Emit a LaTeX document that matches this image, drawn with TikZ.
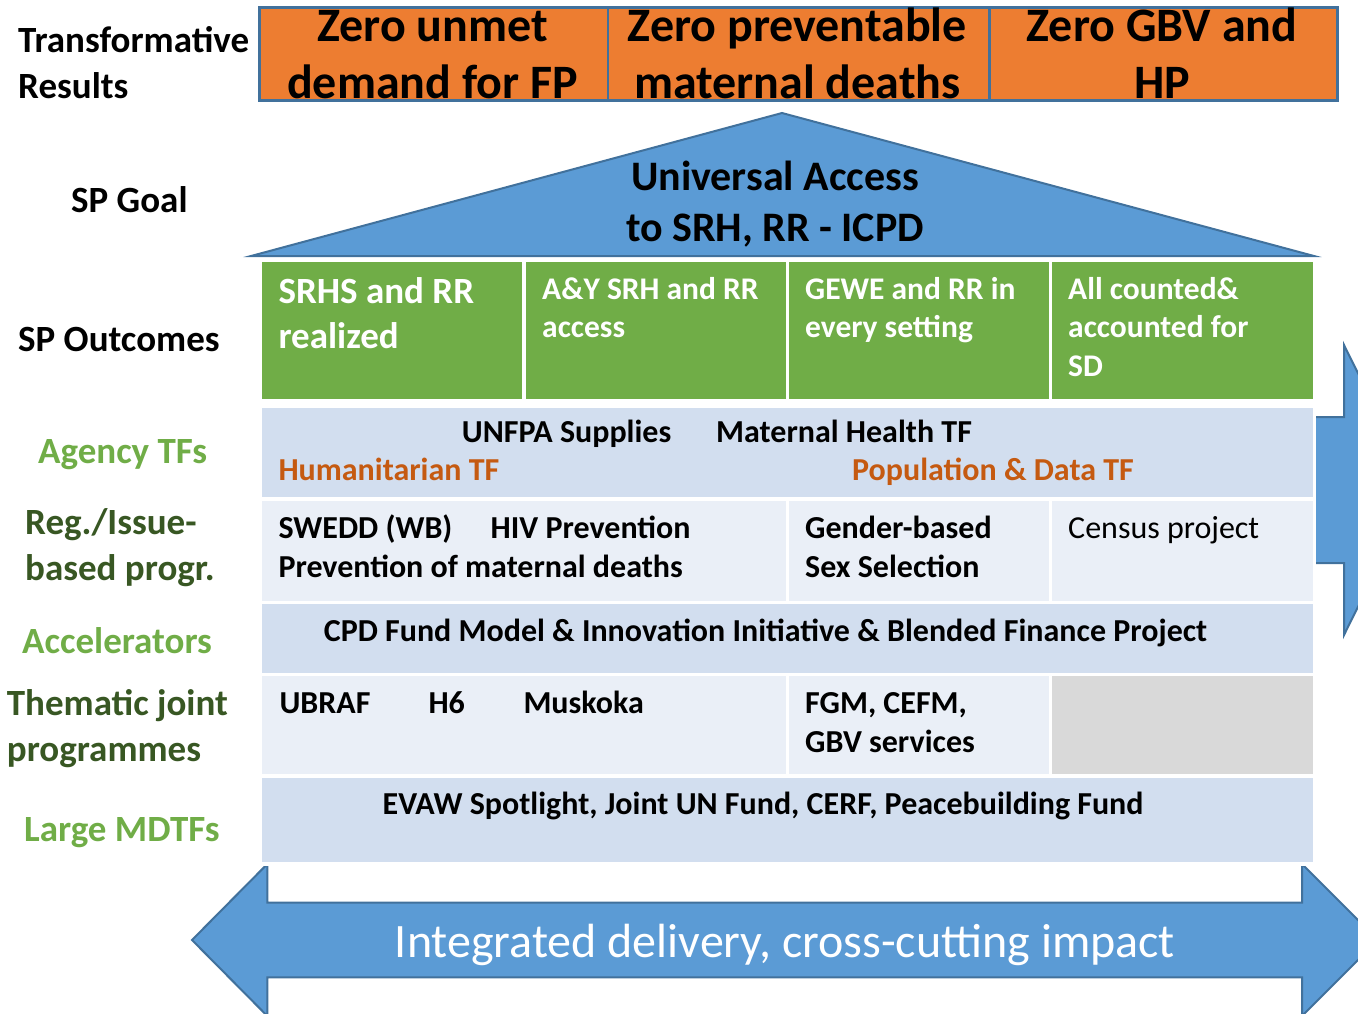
\documentclass[tikz,border=0pt]{standalone}
\usepackage{fontspec}
\setmainfont{Carlito}
\definecolor{orfill}{HTML}{ED7D31}
\definecolor{bord}{HTML}{41719C}
\definecolor{blfill}{HTML}{5B9BD5}
\definecolor{grfill}{HTML}{70AD47}
\definecolor{grlight}{HTML}{70AD47}
\definecolor{grdark}{HTML}{385723}
\definecolor{ortext}{HTML}{C55A11}
\definecolor{bandA}{HTML}{D2DEEF}
\definecolor{bandB}{HTML}{EAEFF7}
\definecolor{grcell}{HTML}{D9D9D9}
\begin{document}
\begin{tikzpicture}[x=1pt, y=-1pt, line join=miter,
    cell/.style={draw=white, line width=3.3pt, inner sep=0, anchor=north west},
    topbox/.style={draw=bord, fill=orfill, line width=2.5pt, inner sep=0, anchor=north west, minimum height=93.3},
    toptxt/.style={inner sep=0, anchor=north, align=center, font=\fontsize{48}{57}\selectfont\bfseries},
    lbl/.style={inner sep=0, align=left, font=\fontsize{37}{46}\selectfont\bfseries},
    outtxt/.style={inner sep=0, anchor=north west, align=left, text=white, font=\fontsize{31.5}{38.5}\selectfont\bfseries},
    tbl/.style={inner sep=0, align=left, font=\fontsize{32}{38.5}\selectfont\bfseries},
    arrw/.style={draw=bord, fill=blfill, line width=2pt}]
    \useasboundingbox (0,0) rectangle (1358,1013);
    \clip (0,0) rectangle (1358,1013);
    \foreach \i/\xa/\xb/\txt in {1/258.3/606.7/{Zero unmet\\demand for FP}, 2/606.7/988/{Zero preventable\\maternal deaths}, 3/988/1336/{Zero GBV and\\HP}} {
        \node[topbox, minimum width={\xb-\xa}] (res\i) at (\xa,6) {};
        \node[toptxt] (rest\i) at ({(\xa+\xb)/2},1) {\strut\txt};
    }
    \coordinate (apex) at (782,113);
    \coordinate (baseL) at (251,256);
    \coordinate (baseR) at (1314,256);
    \draw[arrw] (baseL) -- (apex) -- (baseR) -- cycle;
    \node[inner sep=0, anchor=north, align=center, font=\fontsize{42}{51}\selectfont\bfseries] (goal) at (775,154.3) {\strut Universal Access\\to SRH, RR - ICPD};
    \draw[arrw] (1311,417) -- (1344,417) -- (1344,345) -- (1416,490) -- (1344,635) -- (1344,563) -- (1311,563) -- cycle;
    \draw[arrw] (192,940) -- (267.3,864) -- (267.3,902.7) -- (1302,902.7) -- (1302,864) -- (1378,940) -- (1302,1016) -- (1302,977.3) -- (267.3,977.3) -- (267.3,1016) -- cycle;
    \node[inner sep=0, anchor=base, text=white, font=\fontsize{48}{57}\selectfont] (impact) at (785,957) {Integrated delivery, cross-cutting impact};
    \node[lbl, anchor=north west] (lres) at (18,20) {\strut Transformative\\Results};
    \node[lbl, anchor=base west] (lgoal) at (71,212) {SP Goal};
    \node[lbl, anchor=base west] (lout) at (18,351.5) {SP Outcomes};
    \node[lbl, anchor=base west, text=grlight] (lag) at (38,463.3) {Agency TFs};
    \node[lbl, anchor=north west, text=grdark] (lreg) at (25,502) {\strut Reg./Issue-\\based progr.};
    \node[lbl, anchor=base west, text=grlight] (lacc) at (22,653.5) {Accelerators};
    \node[lbl, anchor=north west, text=grdark] (lthm) at (6.7,683) {\strut Thematic joint\\programmes};
    \node[lbl, anchor=base west, text=grlight] (lmdtf) at (24,841) {Large MDTFs};
    \foreach \i/\xa/\xb in {1/258.5/522.3, 2/522.3/785.5, 3/785.5/1049, 4/1049/1312.5}
        \node[cell, fill=grfill, minimum width={\xb-\xa}, minimum height=140.3] (out\i) at (\xa,258.5) {};
    \node[outtxt, font=\fontsize{37}{45}\selectfont\bfseries] (outt1) at (278.3,272.2) {\strut SRHS and RR\\realized};
    \foreach \i/\x/\txt in {2/542/{A\&Y SRH and RR\\access}, 3/805/{GEWE and RR in\\every setting}, 4/1068/{All counted\&\\accounted for\\SD}}
        \node[outtxt] (outt\i) at (\x,272) {\strut\txt};
    \node[cell, fill=bandA, minimum width=1054, minimum height=93] (ag) at (258.5,404.3) {};
    \node[cell, fill=bandB, minimum width=527, minimum height=103.7] (reg1) at (258.5,497.3) {};
    \node[cell, fill=bandB, minimum width=263.5, minimum height=103.7] (reg2) at (785.5,497.3) {};
    \node[cell, fill=bandB, minimum width=263.5, minimum height=103.7] (reg3) at (1049,497.3) {};
    \node[cell, fill=bandA, minimum width=1054, minimum height=72] (acc) at (258.5,601) {};
    \node[cell, fill=bandB, minimum width=527, minimum height=101.4] (thm1) at (258.5,673) {};
    \node[cell, fill=bandB, minimum width=263.5, minimum height=101.4] (thm2) at (785.5,673) {};
    \node[cell, fill=grcell, minimum width=263.5, minimum height=101.4] (thm3) at (1049,673) {};
    \node[cell, fill=bandA, minimum width=1054, minimum height=88] (mdtf) at (258.5,774.4) {};
    \node[tbl, anchor=base west] (supp) at (461.7,442.3) {UNFPA Supplies};
    \node[tbl, anchor=base west] (mhtf) at (716,442.3) {Maternal Health TF};
    \node[tbl, anchor=base west, text=ortext] (hum) at (278.3,480) {Humanitarian TF};
    \node[tbl, anchor=base west, text=ortext] (pop) at (852,480) {Population \& Data TF};
    \node[tbl, anchor=north west] (swedd) at (278.3,511.5) {\strut SWEDD (WB)\hspace{31pt} HIV Prevention\\Prevention of maternal deaths};
    \node[tbl, anchor=north west] (gbss) at (805,511.5) {\strut Gender-based\\Sex Selection};
    \node[tbl, anchor=base west, font=\fontsize{32}{38.5}\selectfont] (cens) at (1068,538.5) {Census project};
    \node[tbl, anchor=base] (cpd) at (765.5,641) {CPD Fund Model \& Innovation Initiative \& Blended Finance Project};
    \node[tbl, anchor=base west] (ubraf) at (279.3,713.3) {UBRAF};
    \node[tbl, anchor=base west] (hsix) at (428.3,713.3) {H6};
    \node[tbl, anchor=base west] (musk) at (523.3,713.3) {Muskoka};
    \node[tbl, anchor=north west] (fgm) at (805,686.35) {\strut FGM, CEFM,\\GBV services};
    \node[tbl, anchor=base] (evaw) at (763,814) {EVAW Spotlight, Joint UN Fund, CERF, Peacebuilding Fund};
\end{tikzpicture}
\end{document}
